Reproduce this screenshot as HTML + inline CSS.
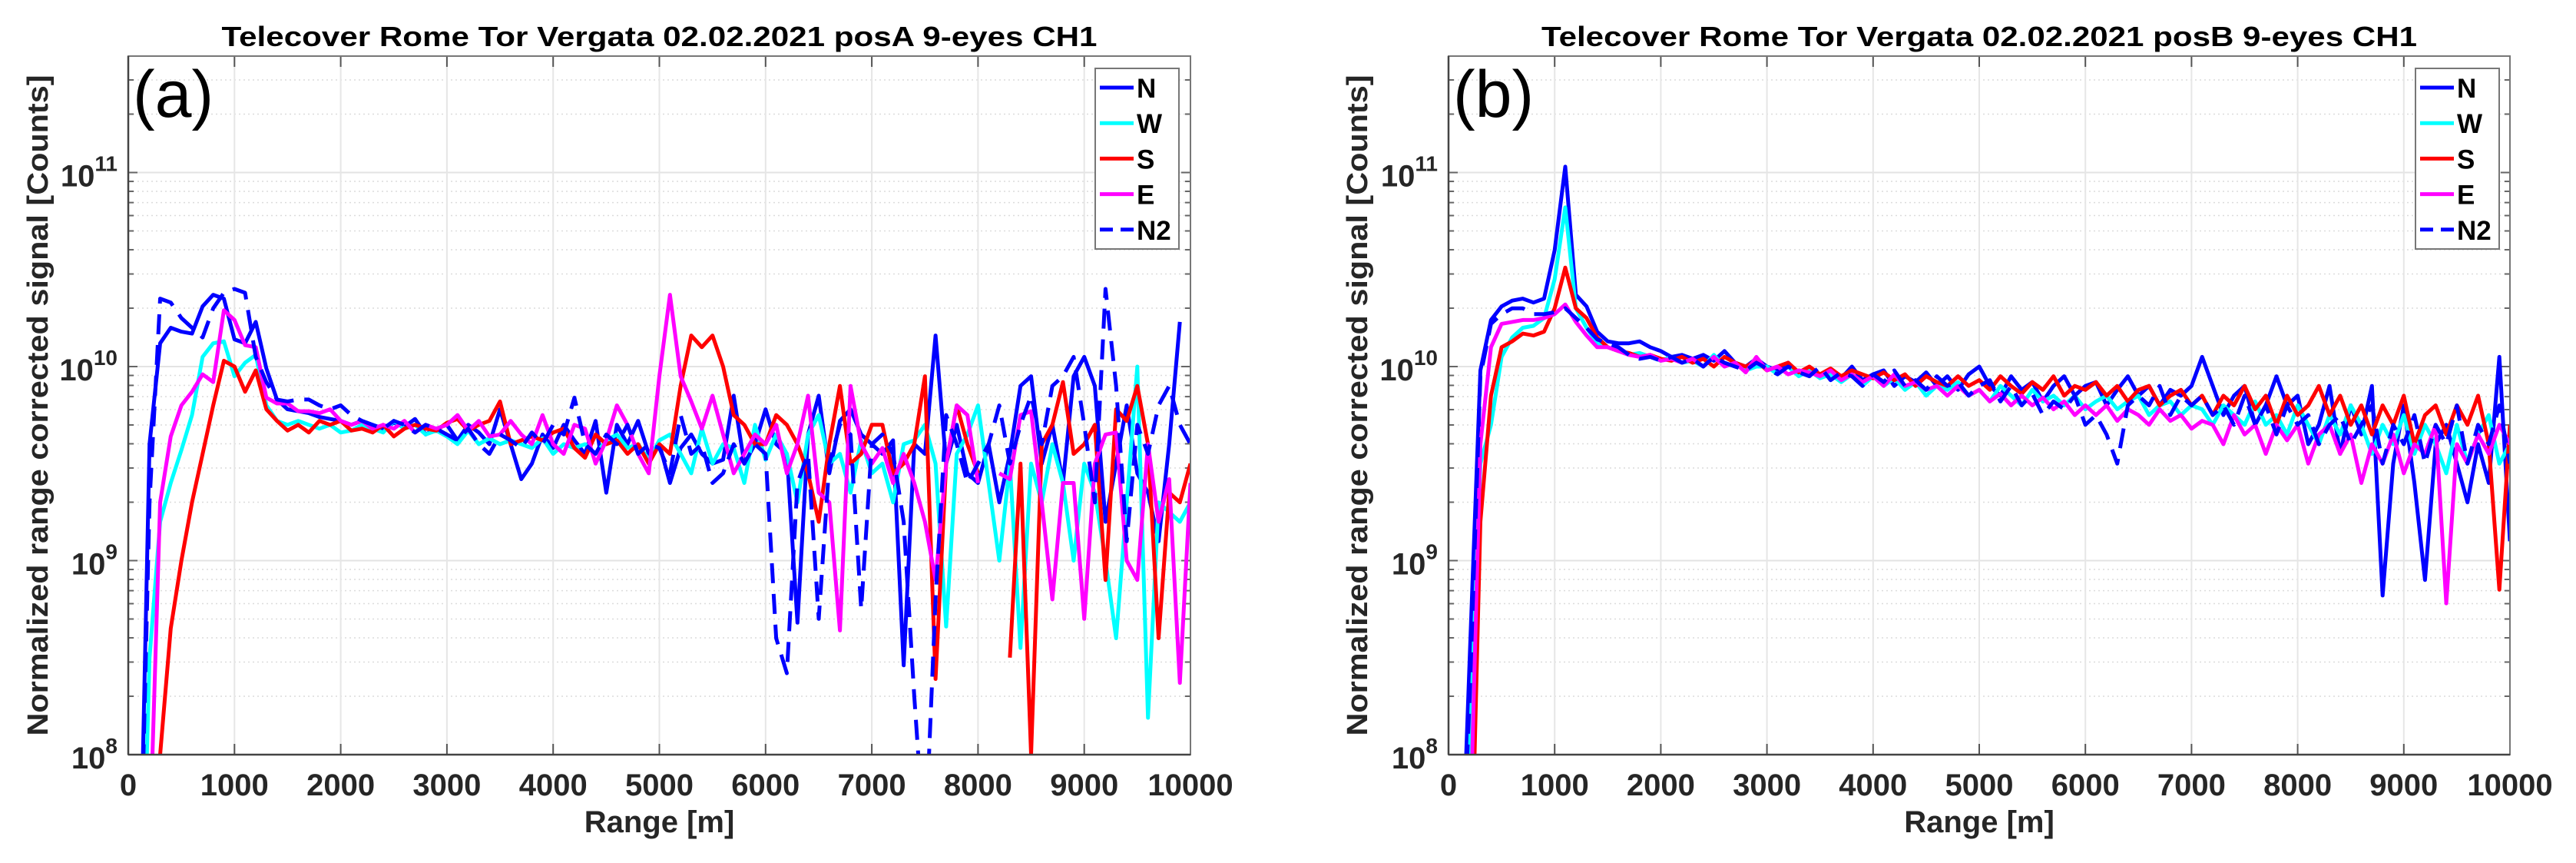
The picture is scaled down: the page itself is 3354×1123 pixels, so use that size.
<!DOCTYPE html>
<html><head><meta charset="utf-8"><style>
html,body{margin:0;padding:0;background:#fff;overflow:hidden;width:3354px;height:1123px;}
svg{display:block;font-family:"Liberation Sans",Arial,sans-serif;}
</style></head><body>
<svg id="chart" xmlns="http://www.w3.org/2000/svg" width="3354" height="1123" viewBox="0 0 3354 1123"></svg>
<script>
// ---- data (log10 of normalized range corrected signal), range = i*100 m, i=1..100 ----
const rangeM = Array.from({length:100},(_,i)=>(i+1)*100);
const seriesNames = ["N","W","S","E","N2"];
const xTickLabels = ["0","1000","2000","3000","4000","5000","6000","7000","8000","9000","10000"];
const yTickExponents = [8,9,10,11];

const aN = [7.0,9.6,10.12,10.2,10.18,10.17,10.31,10.37,10.35,10.14,10.12,10.23,9.99,9.83,9.78,9.77,9.76,9.74,9.73,9.72,
9.7,9.72,9.7,9.68,9.71,9.69,9.73,9.65,9.68,9.7,9.62,9.7,9.66,9.6,9.78,9.6,9.42,9.5,9.65,9.58,
9.7,9.62,9.55,9.72,9.35,9.7,9.6,9.72,9.55,9.6,9.4,9.58,9.65,9.55,9.5,9.52,9.85,9.5,9.6,9.78,
9.6,9.55,8.68,9.65,9.85,9.45,9.72,9.78,9.65,9.6,9.55,9.62,8.46,9.6,9.55,10.16,9.5,9.7,9.45,9.4,
9.6,9.3,9.55,9.9,9.95,9.5,9.7,9.4,9.95,10.05,9.9,9.2,9.5,9.8,9.45,9.35,9.1,9.6,10.23,null];
const aW = [6.5,8.5,9.2,9.4,9.57,9.75,10.05,10.12,10.13,9.95,10.02,10.06,9.8,9.72,9.7,9.72,9.7,9.68,9.7,9.66,
9.67,9.7,9.68,9.66,9.72,9.68,9.7,9.65,9.67,9.64,9.6,9.67,9.6,9.63,9.6,9.62,9.6,9.58,9.63,9.55,
9.6,9.58,9.6,9.55,9.62,9.65,9.58,9.6,9.52,9.62,9.65,9.55,9.45,9.68,9.5,9.6,9.58,9.4,9.7,9.52,
9.65,9.55,9.3,9.65,9.75,9.5,9.55,9.35,9.62,9.45,9.5,9.3,9.6,9.62,9.7,9.5,8.66,9.55,9.65,9.8,
9.4,9.0,9.5,8.55,9.5,9.3,9.6,9.4,9.0,9.5,9.35,9.0,8.6,9.3,10.0,8.19,9.3,9.25,9.2,9.3];
const aS = [null,5.0,8.0,8.65,9.0,9.3,9.55,9.8,10.03,10.0,9.87,9.98,9.78,9.72,9.67,9.7,9.66,9.72,9.7,9.72,
9.67,9.68,9.66,9.7,9.64,9.68,9.7,9.68,9.67,9.71,9.73,9.67,9.7,9.72,9.82,9.6,9.62,9.64,9.62,9.66,
9.68,9.58,9.53,9.65,9.6,9.62,9.55,9.6,9.5,9.6,9.55,9.9,10.16,10.1,10.16,10.0,9.75,9.7,9.6,9.6,
9.75,9.7,9.6,9.45,9.2,9.6,9.9,9.5,9.55,9.7,9.7,9.45,9.5,9.6,9.95,8.39,9.5,9.8,9.6,9.45,
null,null,8.5,9.5,8.0,9.6,9.7,9.92,9.55,9.6,9.7,8.9,9.78,9.72,9.9,9.6,8.6,9.35,9.3,9.5];
const aE = [null,7.5,9.3,9.64,9.8,9.87,9.96,9.92,10.29,10.24,10.11,10.1,9.84,9.81,9.81,9.77,9.77,9.76,9.78,9.72,
9.7,9.72,9.68,9.7,9.68,9.72,9.66,9.7,9.68,9.7,9.75,9.67,9.72,9.64,9.65,9.72,9.65,9.6,9.75,9.6,
9.55,9.7,9.68,9.5,9.62,9.8,9.7,9.55,9.45,9.95,10.37,9.95,9.82,9.68,9.85,9.65,9.45,9.55,9.65,9.6,
9.7,9.45,9.6,9.85,9.35,9.3,8.64,9.9,9.6,9.5,9.58,9.4,9.55,9.4,9.2,8.9,9.5,9.8,9.75,9.4,
null,9.45,9.42,9.75,9.77,9.3,8.8,9.4,9.4,8.7,9.5,9.65,9.66,9.0,8.9,9.6,9.2,9.42,8.37,9.4];
const aN2 = [7.0,9.3,10.35,10.33,10.25,10.2,10.15,10.3,10.38,10.4,10.38,10.05,9.92,9.83,9.82,9.83,9.83,9.8,9.78,9.8,
9.75,9.72,9.7,9.68,9.72,9.7,9.66,9.7,9.68,9.65,9.62,9.68,9.6,9.55,9.65,9.62,9.58,9.66,9.6,9.7,
9.65,9.84,9.6,9.55,9.65,9.6,9.7,9.55,9.6,9.58,9.45,9.75,9.55,9.6,9.4,9.45,9.6,9.5,9.6,9.55,
8.6,8.42,9.4,9.55,8.7,9.5,9.7,9.65,8.75,9.6,9.65,9.55,9.2,8.3,7.5,8.8,9.75,9.6,9.4,9.5,
9.6,9.8,9.5,9.7,9.85,9.6,9.9,9.95,10.05,9.7,9.3,10.4,9.9,9.1,9.7,9.55,9.8,9.9,9.7,9.6];

const bN = [7.0,8.5,9.98,10.24,10.31,10.34,10.35,10.33,10.35,10.6,11.03,10.37,10.31,10.18,10.13,10.12,10.12,10.13,10.1,10.08,
10.05,10.06,10.04,10.06,10.03,10.08,10.02,10.0,10.04,10.0,9.98,10.02,9.96,9.99,9.95,9.98,9.94,10.0,9.93,9.96,
9.98,9.9,9.95,9.92,9.97,9.9,9.95,9.88,9.96,10.0,9.9,9.85,9.95,9.88,9.92,9.82,9.9,9.95,9.85,9.9,
9.92,9.8,9.88,9.95,9.85,9.9,9.8,9.88,9.85,9.9,10.05,9.9,9.75,9.85,9.9,9.7,9.8,9.95,9.8,9.85,
9.6,9.7,9.9,9.55,9.8,9.65,9.9,8.82,9.5,9.8,9.4,8.9,9.6,9.7,9.5,9.3,9.6,9.4,10.05,9.1];
const bW = [6.5,8.0,9.5,9.7,10.05,10.15,10.2,10.21,10.25,10.45,10.82,10.3,10.2,10.12,10.1,10.08,10.06,10.07,10.05,10.03,
10.05,10.02,10.03,10.0,10.06,10.0,10.02,9.98,10.0,10.0,9.96,10.0,9.95,9.98,9.94,9.96,9.92,9.96,9.9,9.95,
9.9,9.94,9.88,9.92,9.85,9.9,9.88,9.92,9.85,9.88,9.82,9.9,9.85,9.8,9.88,9.82,9.85,9.8,9.85,9.78,
9.82,9.85,9.78,9.82,9.85,9.75,9.8,9.82,9.75,9.8,9.78,9.7,9.8,9.75,9.7,9.82,9.7,9.75,9.65,9.8,
9.7,9.6,9.75,9.65,9.8,9.7,9.55,9.7,9.6,9.75,9.55,9.7,9.6,9.45,9.7,9.5,9.65,9.75,9.5,9.6];
const bS = [null,7.0,9.2,9.85,10.1,10.13,10.17,10.16,10.18,10.3,10.51,10.3,10.25,10.15,10.1,10.08,10.07,10.05,10.06,10.04,
10.03,10.05,10.02,10.04,10.0,10.05,10.02,10.0,10.03,9.98,10.0,10.02,9.97,10.0,9.96,9.99,9.95,9.98,9.96,9.94,
9.97,9.93,9.96,9.9,9.95,9.92,9.9,9.95,9.9,9.93,9.88,9.95,9.9,9.86,9.92,9.88,9.95,9.85,9.9,9.88,
9.92,9.85,9.9,9.82,9.88,9.9,9.8,9.85,9.88,9.8,9.85,9.75,9.85,9.8,9.9,9.78,9.85,9.7,9.85,9.75,
9.8,9.9,9.75,9.85,9.7,9.8,9.65,9.8,9.7,9.85,9.6,9.75,9.8,9.65,9.8,9.7,9.85,9.6,8.85,9.7];
const bE = [null,7.5,9.6,10.1,10.22,10.23,10.24,10.24,10.25,10.27,10.32,10.23,10.16,10.1,10.1,10.08,10.06,10.05,10.06,10.03,
10.04,10.02,10.04,10.0,10.05,10.0,10.02,9.97,10.05,9.98,10.0,9.96,9.98,9.97,9.95,9.98,9.93,9.96,9.92,9.95,
9.9,9.96,9.9,9.92,9.88,9.9,9.85,9.9,9.85,9.88,9.82,9.86,9.8,9.85,9.8,9.84,9.78,9.82,9.75,9.8,
9.75,9.8,9.72,9.78,9.75,9.7,9.78,9.72,9.75,9.68,9.72,9.7,9.6,9.75,9.65,9.7,9.55,9.7,9.62,9.7,
9.5,9.65,9.7,9.55,9.65,9.4,9.6,9.5,9.65,9.45,9.6,9.55,9.7,8.78,9.6,9.5,9.65,9.55,9.7,9.6];
const bN2 = [7.0,8.3,9.95,10.22,10.27,10.3,10.3,10.27,10.27,10.28,10.3,10.25,10.2,10.14,10.12,10.1,10.06,10.04,10.05,10.03,
10.05,10.02,10.04,10.0,10.05,10.02,10.0,9.98,10.02,9.99,9.96,10.0,9.97,9.95,10.0,9.93,9.97,9.95,9.9,9.96,
9.92,9.98,9.9,9.93,9.88,9.95,9.9,9.92,9.85,9.9,9.93,9.82,9.9,9.8,9.86,9.75,9.82,9.78,9.85,9.7,
9.75,9.65,9.5,9.8,9.85,9.8,9.9,9.75,9.85,9.8,9.85,9.75,9.8,9.7,9.85,9.7,9.8,9.65,9.8,9.7,
9.75,9.6,9.7,9.75,9.6,9.7,9.8,9.5,9.7,9.6,9.75,9.5,9.7,9.6,9.8,9.5,9.7,9.6,9.8,9.5];

const panelA = {N:aN,W:aW,S:aS,E:aE,N2:aN2};
const panelB = {N:bN,W:bW,S:bS,E:bE,N2:bN2};

// ---- drawing ----
const NS="http://www.w3.org/2000/svg";
const svg=document.getElementById('chart');
function mk(tag,attrs,parent){const e=document.createElementNS(NS,tag);for(const k in attrs)e.setAttribute(k,attrs[k]);(parent||svg).appendChild(e);return e;}
const colors={N:"#0000ff",W:"#00ffff",S:"#ff0000",E:"#ff00ff",N2:"#0000ff"};
const TOP=73,BOT=982,DEC=252.5,YMIN=8,YMAX=11+(BOT-TOP)/DEC-3;

function drawPanel(pid,L,R,data,title,letter,ylabX,legL){
  const xS=v=>L+(v/10000)*(R-L);
  const yS=lg=>BOT-(lg-YMIN)*DEC;
  const g=mk('g',{});
  
  
  for(let d=8;d<=11;d++){for(let m=1;m<=9;m++){const lg=d+Math.log10(m);if(lg<=YMIN||lg>=YMAX+0.001)continue;const y=yS(lg);
    if(m===1){const l=mk('line',{x1:L,x2:R,y1:y,y2:y,stroke:'#e3e3e3','stroke-width':2},g);}
    else{const l=mk('line',{x1:L,x2:R,y1:y,y2:y,stroke:'#dcdcdc','stroke-width':1.5,'stroke-dasharray':'2 4'},g);}
    const tl=m===1?12:7;
    mk('line',{x1:L,x2:L+tl,y1:y,y2:y,stroke:'#666','stroke-width':2},g);
    mk('line',{x1:R,x2:R-tl,y1:y,y2:y,stroke:'#666','stroke-width':2},g);
  }}
  xTickLabels.forEach((t,i)=>{const x=xS(+t);
    if(i>0&&i<10){const l=mk('line',{x1:x,x2:x,y1:TOP,y2:BOT,stroke:'#e6e6e6','stroke-width':2},g);}
    mk('line',{x1:x,x2:x,y1:BOT,y2:BOT-14,stroke:'#555','stroke-width':2},g);
    mk('line',{x1:x,x2:x,y1:TOP,y2:TOP+14,stroke:'#555','stroke-width':2},g);
    const tx=mk('text',{x:x,y:1035,'font-size':40,'font-weight':'bold','text-anchor':'middle',fill:'#262626'},g);tx.textContent=t;
    
  });
  yTickExponents.forEach(e=>{const y=yS(e);
    const tx=mk('text',{x:L-14,y:y+18,'font-size':40,'font-weight':'bold','text-anchor':'end',fill:'#262626'},g);
    
    const t1=mk('tspan',{},tx);t1.textContent='10';
    const t2=mk('tspan',{'font-size':28,dy:-20},tx);t2.textContent=String(e);
  });
  const cp=mk('clipPath',{id:'clip'+pid},g);mk('rect',{x:L,y:TOP,width:R-L,height:BOT-TOP},cp);
  const lines=mk('g',{'clip-path':'url(#clip'+pid+')'},g);
  seriesNames.forEach(s=>{
    const vals=data[s];let d='';let pen=false;
    vals.forEach((v,i)=>{if(v===null){pen=false;return;}const lg=Math.max(v,5);
      d+=(pen?'L':'M')+xS(rangeM[i]).toFixed(1)+' '+yS(lg).toFixed(1);pen=true;});
    const p=mk('path',{d:d,fill:'none',stroke:colors[s],'stroke-width':5,'stroke-linejoin':'round'},lines);
    if(s==='N2')p.setAttribute('stroke-dasharray','26 14');
    
    
  });
  const box=mk('rect',{x:L,y:TOP,width:R-L,height:BOT-TOP,fill:'none',stroke:'#777','stroke-width':2},g);
  
  mk('line',{x1:L,x2:R,y1:BOT,y2:BOT,stroke:'#444','stroke-width':2.5},g);
  mk('line',{x1:L,x2:L,y1:TOP,y2:BOT,stroke:'#444','stroke-width':2.5},g);
  const ti=mk('text',{x:(L+R)/2,y:60,'font-size':36,'font-weight':'bold','text-anchor':'middle',textLength:1140,lengthAdjust:'spacingAndGlyphs'},g);
  ti.textContent=title;
  const xl=mk('text',{x:(L+R)/2,y:1083,'font-size':40,'font-weight':'bold','text-anchor':'middle',fill:'#262626'},g);
  xl.textContent='Range [m]';
  const yl=mk('text',{x:0,y:0,'font-size':38,'font-weight':'bold','text-anchor':'middle',fill:'#262626',textLength:860,lengthAdjust:'spacingAndGlyphs',transform:'translate('+ylabX+','+((TOP+BOT)/2)+') rotate(-90)'},g);
  yl.textContent='Normalized range corrected signal [Counts]';
  const lt=mk('text',{x:L+6,y:152,'font-size':86},g);lt.textContent=letter;
  
  const lg=mk('g',{},g);
  mk('rect',{x:legL,y:89,width:109,height:235,fill:'#fff',stroke:'#777','stroke-width':2},lg);
  seriesNames.forEach((s,i)=>{const y=114+i*46.2;
    const ent=mk('g',{},lg);
    const ln=mk('line',{x1:legL+6,x2:legL+50,y1:y,y2:y,stroke:colors[s],'stroke-width':5},ent);
    if(s==='N2')ln.setAttribute('stroke-dasharray','17 10');
    const t=mk('text',{x:legL+54,y:y+13,'font-size':35,'font-weight':'bold'},ent);t.textContent=s;
  });
}
drawPanel('a',167,1550,panelA,'Telecover Rome Tor Vergata 02.02.2021 posA  9-eyes CH1','(a)',62,1426);
drawPanel('b',1886,3268,panelB,'Telecover Rome Tor Vergata 02.02.2021 posB  9-eyes CH1','(b)',1780,3145);
</script>
</body></html>
